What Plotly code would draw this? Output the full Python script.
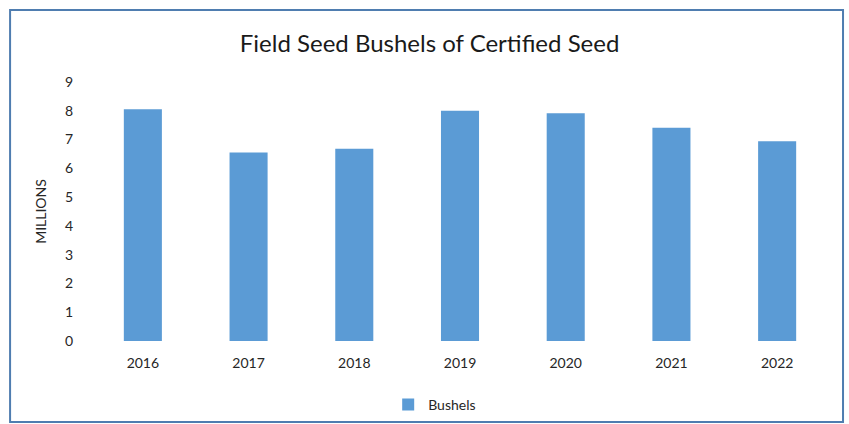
import plotly.graph_objects as go

years = ["2016", "2017", "2018", "2019", "2020", "2021", "2022"]
bushels = [8.05, 6.55, 6.68, 8.0, 7.91, 7.41, 6.94]
y_ticks = list(range(0, 10))

bar_color = "#5b9bd5"
text_color = "#262626"

fig = go.Figure()
fig.add_trace(go.Bar(x=years, y=bushels, name="Bushels", marker_color=bar_color,
                     marker_line_width=0))

fig.update_layout(
    width=849, height=424,
    margin=dict(l=90, r=19, t=82, b=83),
    paper_bgcolor="white", plot_bgcolor="white",
    font=dict(family="Lato", color=text_color, size=14),
    title=dict(text="Field Seed Bushels of Certified Seed", x=0.506, xanchor="center",
               y=1 - 44 / 424, yanchor="middle", font=dict(size=24, color="#1a1a1a")),
    bargap=0.64,
    showlegend=True,
    legend=dict(orientation="h", xref="container", yref="container",
                x=0.512, xanchor="center", y=1 - 405 / 424, yanchor="middle",
                font=dict(size=14), itemwidth=30),
)
fig.update_xaxes(showgrid=False, showline=False, zeroline=False, ticks="",
                 ticklabelstandoff=12, automargin=False)
fig.update_yaxes(range=[0, 9], tickvals=y_ticks, showgrid=False, showline=False,
                 zeroline=False, ticks="", ticklabelstandoff=16, automargin=False,
                 title=dict(text="MILLIONS", standoff=14, font=dict(size=14)))

# chart frame
fig.add_shape(type="rect", xref="paper", yref="paper",
              x0=-0.108, x1=1.0176, y0=-0.313, y1=1.278,
              line=dict(color="#4f7db0", width=2), fillcolor="rgba(0,0,0,0)")

# drop the browser's default body margin so the figure sits at the window corner
fig.write_html("out.html", config={"displayModeBar": False},
               post_script="document.body.style.margin='0';")
